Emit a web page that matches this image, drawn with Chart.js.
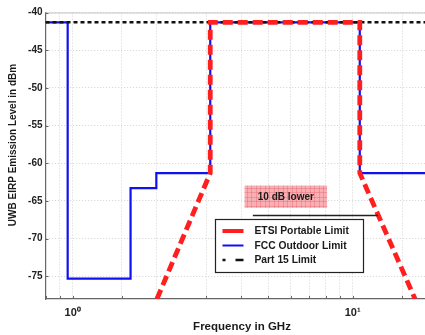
<!DOCTYPE html>
<html>
<head>
<meta charset="utf-8">
<script src="https://cdn.jsdelivr.net/npm/chart.js@4"></script>
<style>
  html, body { margin: 0; padding: 0; background: #fff; overflow: hidden; }
  #wrap { width: 425px; height: 335px; overflow: hidden; }
  canvas { display: block; }
</style>
</head>
<body>
<div id="wrap"><canvas id="c" width="437" height="335"></canvas></div>
<script>
// Emission masks: frequency in GHz, level in dBm
const fccFreq   = [0.8, 0.96, 0.96, 1.61, 1.61, 1.99, 1.99, 3.1, 3.1, 10.6, 10.6, 20];
const fccLevel  = [-41.3, -41.3, -75.3, -75.3, -63.3, -63.3, -61.3, -61.3, -41.3, -41.3, -61.3, -61.3];
const etsiFreq  = [2.0, 3.1, 3.1, 10.6, 10.6, 16.7];
const etsiLevel = [-78, -61.3, -41.3, -41.3, -61.3, -78];
const part15Freq  = [0.8, 20];
const part15Level = [-41.3, -41.3];

// Axis ticks
const decadeTicks  = [1, 10];
const decadeLabels = ['10\u2070', '10\u00b9'];
const levelTicks   = [-75, -70, -65, -60, -55, -50, -45, -40];

const seriesNames = ['ETSI Portable Limit', 'FCC Outdoor Limit', 'Part 15 Limit'];
const noteText = '10 dB lower';

const FONT = '"Liberation Sans", Arial, Helvetica, sans-serif';
const RED = '#ff1f1f', BLUE = '#1010f0', BLACK = '#111111';

const pts = (xs, ys) => xs.map((x, i) => ({ x: x, y: ys[i] }));

const overlay = {
  id: 'overlay',
  afterDatasetsDraw(chart) {
    const { ctx, chartArea: a, scales: { x, y } } = chart;
    ctx.save();
    // top frame line
    ctx.strokeStyle = '#c4c4c4';
    ctx.lineWidth = 1;
    ctx.beginPath();
    ctx.moveTo(a.left, a.top + 0.5);
    ctx.lineTo(a.right, a.top + 0.5);
    ctx.stroke();
    // small inward tick marks
    ctx.strokeStyle = '#666';
    ctx.beginPath();
    y.ticks.forEach(t => {
      const py = Math.round(y.getPixelForValue(t.value)) + 0.5;
      ctx.moveTo(a.left, py); ctx.lineTo(a.left + 3, py);
    });
    x.ticks.forEach(t => {
      const px = Math.round(x.getPixelForValue(t.value)) + 0.5;
      ctx.moveTo(px, a.bottom); ctx.lineTo(px, a.bottom - 3);
    });
    ctx.stroke();

    // note box
    const bx1 = x.getPixelForValue(4.11), bx2 = x.getPixelForValue(8.1);
    const by1 = y.getPixelForValue(-62.95), by2 = y.getPixelForValue(-65.9);
    ctx.fillStyle = 'rgba(247,150,156,0.75)';
    ctx.fillRect(bx1, by1, bx2 - bx1, by2 - by1);
    ctx.strokeStyle = 'rgba(225,90,100,0.35)';
    ctx.lineWidth = 1;
    ctx.beginPath();
    for (let px = bx1 + 2; px < bx2; px += 4.5) { ctx.moveTo(Math.round(px) + 0.5, by1); ctx.lineTo(Math.round(px) + 0.5, by2); }
    for (let py = by1 + 2; py < by2; py += 4.5) { ctx.moveTo(bx1, Math.round(py) + 0.5); ctx.lineTo(bx2, Math.round(py) + 0.5); }
    ctx.stroke();
    ctx.fillStyle = '#1a1a1a';
    ctx.font = 'bold 10px ' + FONT;
    ctx.textAlign = 'center';
    ctx.textBaseline = 'middle';
    ctx.fillText(noteText, (bx1 + bx2) / 2, (by1 + by2) / 2 + 0.5);

    // pointer line to the ETSI slope
    const ly = Math.round(y.getPixelForValue(-66.8)) + 0.5;
    ctx.strokeStyle = '#222';
    ctx.lineWidth = 1.3;
    ctx.beginPath();
    ctx.moveTo(x.getPixelForValue(4.4), ly);
    ctx.lineTo(x.getPixelForValue(12.3), ly);
    ctx.stroke();

    // legend
    const lx = 215.5, lt = 219.5, lw = 148, lh = 53;
    ctx.fillStyle = '#fff';
    ctx.fillRect(lx, lt, lw, lh);
    ctx.strokeStyle = '#222';
    ctx.lineWidth = 1.2;
    ctx.strokeRect(lx, lt, lw, lh);
    const rows = [
      { c: RED, w: 4, dash: [] },
      { c: BLUE, w: 2, dash: [] },
      { c: BLACK, w: 2.5, dash: [3, 10, 8, 0] }
    ];
    ctx.font = 'bold 10.3px ' + FONT;
    ctx.textAlign = 'left';
    ctx.textBaseline = 'middle';
    rows.forEach((r, i) => {
      const ry = lt + 11.5 + i * 14.5;
      ctx.strokeStyle = r.c;
      ctx.lineWidth = r.w;
      ctx.setLineDash(r.dash);
      ctx.beginPath();
      ctx.moveTo(lx + 7, ry); ctx.lineTo(lx + 28, ry);
      ctx.stroke();
      ctx.setLineDash([]);
      ctx.fillStyle = '#1a1a1a';
      ctx.fillText(seriesNames[i], lx + 39, ry + 0.5);
    });

    // axis titles
    ctx.fillStyle = '#1a1a1a';
    ctx.font = 'bold 11.5px ' + FONT;
    ctx.textAlign = 'center';
    ctx.textBaseline = 'middle';
    ctx.fillText('Frequency in GHz', 242, 327);
    ctx.translate(13, 145);
    ctx.rotate(-Math.PI / 2);
    ctx.font = 'bold 10px ' + FONT;
    ctx.fillText('UWB EIRP Emission Level in dBm', 0, 0);
    ctx.restore();
  }
};

new Chart(document.getElementById('c'), {
  type: 'scatter',
  data: {
    datasets: [
      { label: seriesNames[1], data: pts(fccFreq, fccLevel), showLine: true,
        borderColor: BLUE, borderWidth: 2.2, pointRadius: 0, order: 3 },
      { label: seriesNames[2], data: pts(part15Freq, part15Level), showLine: true,
        borderColor: BLACK, borderWidth: 2.5, borderDash: [4, 3], pointRadius: 0, order: 2 },
      { label: seriesNames[0], data: pts(etsiFreq, etsiLevel), showLine: true,
        borderColor: RED, borderWidth: 4.8, borderDash: [10, 5], pointRadius: 0, order: 1 }
    ]
  },
  options: {
    responsive: false,
    animation: false,
    devicePixelRatio: 1,
    layout: { padding: { top: 12.5, right: 0, left: 0, bottom: 0 } },
    plugins: { legend: { display: false }, tooltip: { enabled: false } },
    scales: {
      x: {
        type: 'logarithmic',
        min: 0.8, max: 20,
        afterFit: s => { s.height = 36; s.paddingLeft = 0; s.paddingRight = 0; },
        grid: { color: '#d2d2d2', lineWidth: 1, drawTicks: false },
        border: { color: '#666', width: 1.2, dash: [1, 2] },
        ticks: {
          autoSkip: false, maxRotation: 0, padding: 7,
          color: '#222', font: { family: FONT, size: 11, weight: 'bold' },
          callback: v => {
            const i = decadeTicks.indexOf(Number(v));
            return i >= 0 ? decadeLabels[i] : '';
          }
        }
      },
      y: {
        min: -78, max: -40,
        afterFit: s => { s.width = 45.5; s.paddingTop = 0; s.paddingBottom = 0; },
        afterBuildTicks: s => { s.ticks = levelTicks.map(v => ({ value: v })); },
        grid: { color: '#d2d2d2', lineWidth: 1, drawTicks: false },
        border: { color: '#666', width: 1.2, dash: [1, 2] },
        ticks: {
          padding: 3, color: '#222',
          font: { family: FONT, size: 10, weight: 'bold' }
        }
      }
    }
  },
  plugins: [overlay]
});
</script>
</body>
</html>
